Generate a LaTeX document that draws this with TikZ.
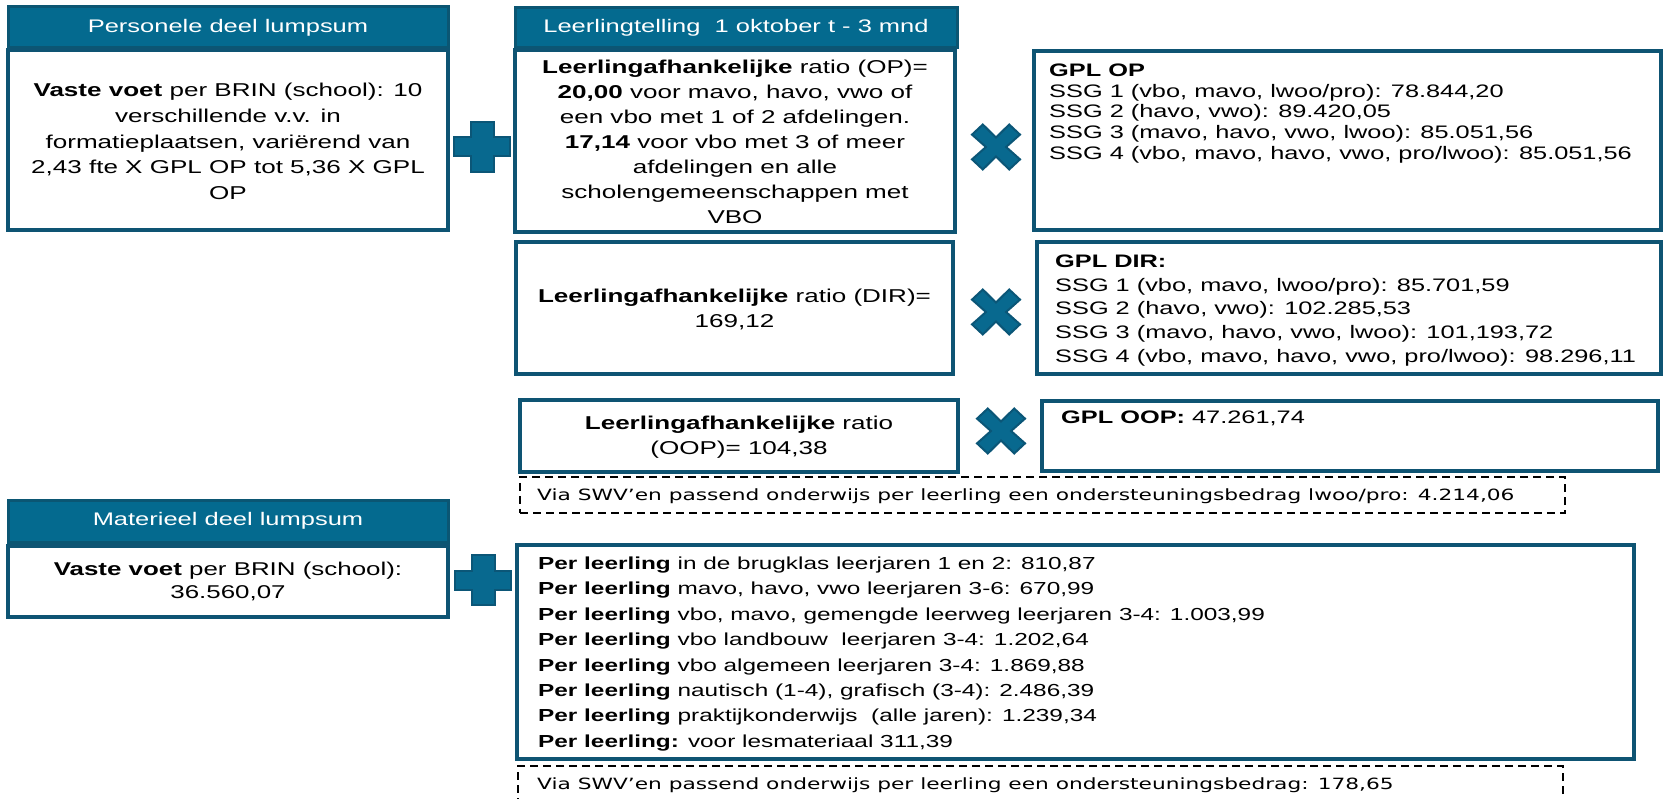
\documentclass[tikz,border=0pt]{standalone}
\usepackage{fontspec}
\setmainfont{Liberation Sans}[FakeStretch=1.4]
\newfontfamily\dvsans{DejaVu Sans}[FakeStretch=1.4]
\definecolor{hdrc}{HTML}{046A8F}
\definecolor{hdrb}{HTML}{0B5673}
\definecolor{boxc}{HTML}{0E5473}
\definecolor{iconc}{HTML}{08698F}
\definecolor{iconb}{HTML}{0B5677}
\begin{document}
\begin{tikzpicture}[x=1pt,y=-1pt,
 box/.style={draw=boxc, line width=3.5pt, fill=white, inner sep=0pt, outer sep=0pt},
 hdr/.style={draw=hdrb, fill=hdrc, line width=3pt, inner sep=0pt, outer sep=0pt},
 dbox/.style={draw=black, line width=1.6pt, dash pattern=on 8pt off 5pt, inner sep=0pt, outer sep=0pt},
 hdrtxt/.style={text=white, inner sep=0pt, font=\fontsize{18.2}{22}\selectfont},
 ctxt/.style={inner sep=0pt, align=center},
 ltxt/.style={inner sep=0pt, align=left, anchor=west},
 dtxt/.style={inner sep=0pt, anchor=west, font=\dvsans\fontsize{15.5}{18}\selectfont},
 plussign/.pic={\filldraw[fill=iconc, draw=iconb, line width=2pt] (-28,-9.5)--(-11.5,-9.5)--(-11.5,-25)--(11.5,-25)--(11.5,-9.5)--(28,-9.5)--(28,9.5)--(11.5,9.5)--(11.5,25)--(-11.5,25)--(-11.5,9.5)--(-28,9.5)--cycle;},
 crosssign/.pic={\filldraw[fill=iconc, draw=iconb, line width=2pt, x=24pt, y=22.5pt] (-1,-0.55)--(-0.55,-1)--(0,-0.42)--(0.55,-1)--(1,-0.55)--(0.42,0)--(1,0.55)--(0.55,1)--(0,0.42)--(-0.55,1)--(-1,0.55)--(-0.42,0)--cycle;}
]
\useasboundingbox (0,0) rectangle (1665,799);

% boxes
\node[hdr, minimum width=440pt, minimum height=41pt] (h1) at (228,27.5) {};
\node[box, minimum width=440pt, minimum height=180pt] (b1) at (228,140) {};
\node[hdr, minimum width=442pt, minimum height=40pt] (h2) at (736,28) {};
\node[box, minimum width=440pt, minimum height=182pt] (b2) at (735,141) {};
\node[box, minimum width=627pt, minimum height=179pt] (g1) at (1347.5,140.5) {};
\node[box, minimum width=437pt, minimum height=132pt] (b3) at (734.5,308) {};
\node[box, minimum width=624pt, minimum height=132pt] (g2) at (1349,308) {};
\node[box, minimum width=438pt, minimum height=72pt] (b4) at (739,436) {};
\node[box, minimum width=616pt, minimum height=70pt] (g3) at (1350,436) {};
\node[dbox, minimum width=1045pt, minimum height=36pt] (d1) at (1042.5,495) {};
\node[hdr, minimum width=440pt, minimum height=42pt] (h3) at (228,521) {};
\node[box, minimum width=440pt, minimum height=71pt] (b5) at (228,581.5) {};
\node[box, minimum width=1117pt, minimum height=214pt] (b6) at (1075.5,652) {};
\node[dbox, minimum width=1045pt, minimum height=49pt] (d2) at (1040.5,790.5) {};

% icons
\pic at (482,147) {plussign};
\pic at (483,580) {plussign};
\pic at (996,147) {crosssign};
\pic at (996,312) {crosssign};
\pic at (1001,431) {crosssign};

% texts
\node[hdrtxt] (t-h1) at (228,28) {Personele deel lumpsum};
\node[hdrtxt] (t-h2) at (736,28) {Leerlingtelling\ \ 1 oktober t - 3 mnd};
\node[hdrtxt] (t-h3) at (228,521) {Materieel deel lumpsum};

\node[ctxt, font=\fontsize{18.6}{25.8}\selectfont] (t-b1) at (228,141.5)
 {\textbf{Vaste voet} per BRIN (school): 10\\ verschillende v.v. in\\ formatieplaatsen, variërend van\\ 2,43 fte X GPL OP tot 5,36 X GPL\\ OP};
\node[ctxt, font=\fontsize{18.6}{25}\selectfont] (t-b2) at (735,141.7)
 {\textbf{Leerlingafhankelijke} ratio (OP)=\\ \textbf{20,00} voor mavo, havo, vwo of\\ een vbo met 1 of 2 afdelingen.\\ \textbf{17,14} voor vbo met 3 of meer\\ afdelingen en alle\\ scholengemeenschappen met\\ VBO};
\node[ltxt, font=\fontsize{18.1}{20.8}\selectfont] (t-g1) at (1049,113.5)
 {\textbf{GPL OP}\\ SSG 1 (vbo, mavo, lwoo/pro): 78.844,20\\ SSG 2 (havo, vwo): 89.420,05\\ SSG 3 (mavo, havo, vwo, lwoo): 85.051,56\\ SSG 4 (vbo, mavo, havo, vwo, pro/lwoo): 85.051,56};
\node[ctxt, font=\fontsize{18.6}{25}\selectfont] (t-b3) at (734.5,309.5)
 {\textbf{Leerlingafhankelijke} ratio (DIR)=\\ 169,12};
\node[ltxt, font=\fontsize{18.1}{23.7}\selectfont] (t-g2) at (1055,310.5)
 {\textbf{GPL DIR:}\\ SSG 1 (vbo, mavo, lwoo/pro): 85.701,59\\ SSG 2 (havo, vwo): 102.285,53\\ SSG 3 (mavo, havo, vwo, lwoo): 101,193,72\\ SSG 4 (vbo, mavo, havo, vwo, pro/lwoo): 98.296,11};
\node[ctxt, font=\fontsize{18.6}{25}\selectfont] (t-b4) at (739,437)
 {\textbf{Leerlingafhankelijke} ratio\\ (OOP)= 104,38};
\node[ltxt, font=\fontsize{18.1}{22}\selectfont] (t-g3) at (1061,418)
 {\textbf{GPL OOP:} 47.261,74};
\node[dtxt] (t-d1) at (537,496)
 {Via SWV’en passend onderwijs per leerling een ondersteuningsbedrag lwoo/pro: 4.214,06};
\node[ctxt, font=\fontsize{18.5}{23}\selectfont] (t-b5) at (228,581.5)
 {\textbf{Vaste voet} per BRIN (school):\\ 36.560,07};
\node[ltxt, font=\fontsize{17.4}{25.4}\selectfont] (t-b6) at (538,654)
 {\textbf{Per leerling} in de brugklas leerjaren 1 en 2: 810,87\\
  \textbf{Per leerling} mavo, havo, vwo leerjaren 3-6: 670,99\\
  \textbf{Per leerling} vbo, mavo, gemengde leerweg leerjaren 3-4: 1.003,99\\
  \textbf{Per leerling} vbo landbouw\ \ leerjaren 3-4: 1.202,64\\
  \textbf{Per leerling} vbo algemeen leerjaren 3-4: 1.869,88\\
  \textbf{Per leerling} nautisch (1-4), grafisch (3-4): 2.486,39\\
  \textbf{Per leerling} praktijkonderwijs\ \ (alle jaren): 1.239,34\\
  \textbf{Per leerling:} voor lesmateriaal 311,39};
\node[dtxt] (t-d2) at (537,785)
 {Via SWV’en passend onderwijs per leerling een ondersteuningsbedrag: 178,65};
\end{tikzpicture}
\end{document}
